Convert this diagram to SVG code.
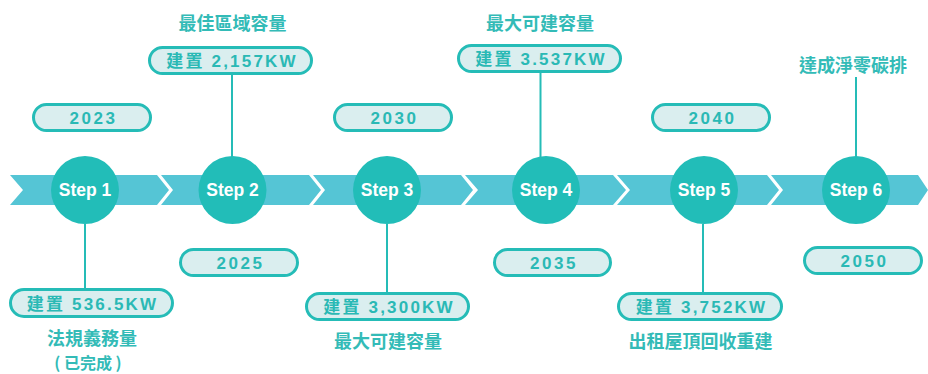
<svg xmlns="http://www.w3.org/2000/svg" width="928" height="374" viewBox="0 0 928 374">
<style>
.band{fill:#55C5D5}
.circ{fill:#22BDB8}
.step{fill:#FFFFFF;font-family:"Liberation Sans","Noto Sans CJK TC",sans-serif;font-weight:bold;font-size:17.5px;text-anchor:middle}
.pill{fill:#DAEEEF;stroke:#25BCB7;stroke-width:3}
.ptxt{fill:#2AB9B5;font-family:"Liberation Sans","Noto Sans CJK TC",sans-serif;font-weight:bold;font-size:17px;letter-spacing:2.2px;text-anchor:middle}
.ytxt{fill:#2AB9B5;font-family:"Liberation Sans",sans-serif;font-weight:bold;font-size:17px;letter-spacing:2.6px;text-anchor:middle}
.cap{fill:#33BBB7;font-family:"Noto Sans CJK TC","Noto Sans CJK SC",sans-serif;font-weight:bold;font-size:18px;text-anchor:middle}
.conn{stroke:#25BCB7;stroke-width:2;fill:none}
</style>
<g id="band">
<polygon class="band" points="10,175 157,175 169,190 157,205 10,205 23,190"/>
<polygon class="band" points="161,175 309,175 321,190 309,205 161,205 173,190"/>
<polygon class="band" points="313,175 461,175 473,190 461,205 313,205 325,190"/>
<polygon class="band" points="465,175 613,175 626,190 613,205 465,205 478,190"/>
<polygon class="band" points="617,175 767,175 779,190 767,205 617,205 630,190"/>
<polygon class="band" points="771,175 918,175 928,190 918,205 771,205 783,190"/>
</g>
<g id="connectors">
<line class="conn" x1="85" y1="224" x2="85" y2="288"/>
<line class="conn" x1="232" y1="75" x2="232" y2="157"/>
<line class="conn" x1="387" y1="224" x2="387" y2="292"/>
<line class="conn" x1="540.5" y1="73" x2="540.5" y2="157"/>
<line class="conn" x1="703" y1="224" x2="703" y2="292"/>
<line class="conn" x1="856" y1="77" x2="856" y2="157"/>
</g>
<g id="step1">
<circle class="circ" cx="85" cy="190" r="34"/>
<text class="step" x="85" y="196">Step 1</text>
<rect class="pill" x="33.5" y="104.5" width="117" height="26" rx="13"/>
<text class="ytxt" x="93.5" y="124">2023</text>
<rect class="pill" x="10.5" y="289.5" width="162" height="27" rx="13.5"/>
<text class="ptxt" x="92.5" y="309.5">建置 536.5KW</text>
<text class="cap" x="92" y="345">法規義務量</text>
<text class="cap" x="88" y="369" style="font-size:16px">( 已完成 )</text>
</g>
<g id="step2">
<circle class="circ" cx="232.5" cy="190" r="34"/>
<text class="step" x="232.5" y="196">Step 2</text>
<rect class="pill" x="149.5" y="47.5" width="162" height="26" rx="13"/>
<text class="ptxt" x="232" y="67">建置 2,157KW</text>
<text class="cap" x="232.5" y="30">最佳區域容量</text>
<rect class="pill" x="180.5" y="249.5" width="117" height="26" rx="13"/>
<text class="ytxt" x="240.5" y="269">2025</text>
</g>
<g id="step3">
<circle class="circ" cx="387" cy="190" r="34"/>
<text class="step" x="387" y="196">Step 3</text>
<rect class="pill" x="334.5" y="104.5" width="117" height="26" rx="13"/>
<text class="ytxt" x="394.5" y="124">2030</text>
<rect class="pill" x="306.5" y="293.5" width="162" height="26" rx="13"/>
<text class="ptxt" x="389" y="313">建置 3,300KW</text>
<text class="cap" x="388" y="348">最大可建容量</text>
</g>
<g id="step4">
<circle class="circ" cx="546" cy="190" r="34"/>
<text class="step" x="546" y="196">Step 4</text>
<rect class="pill" x="458.5" y="45.5" width="162" height="26" rx="13"/>
<text class="ptxt" x="541" y="65">建置 3.537KW</text>
<text class="cap" x="540" y="30">最大可建容量</text>
<rect class="pill" x="494.5" y="249.5" width="116" height="26" rx="13"/>
<text class="ytxt" x="554" y="269">2035</text>
</g>
<g id="step5">
<circle class="circ" cx="704" cy="190" r="34"/>
<text class="step" x="704" y="196">Step 5</text>
<rect class="pill" x="652.5" y="104.5" width="117" height="26" rx="13"/>
<text class="ytxt" x="712.5" y="124">2040</text>
<rect class="pill" x="618.5" y="293.5" width="163" height="26" rx="13"/>
<text class="ptxt" x="701.5" y="313">建置 3,752KW</text>
<text class="cap" x="700.5" y="348">出租屋頂回收重建</text>
</g>
<g id="step6">
<circle class="circ" cx="856" cy="190" r="34"/>
<text class="step" x="856" y="196">Step 6</text>
<text class="cap" x="853" y="72">達成淨零碳排</text>
<rect class="pill" x="804.5" y="247.5" width="117" height="26" rx="13"/>
<text class="ytxt" x="864.5" y="267">2050</text>
</g>
</svg>
